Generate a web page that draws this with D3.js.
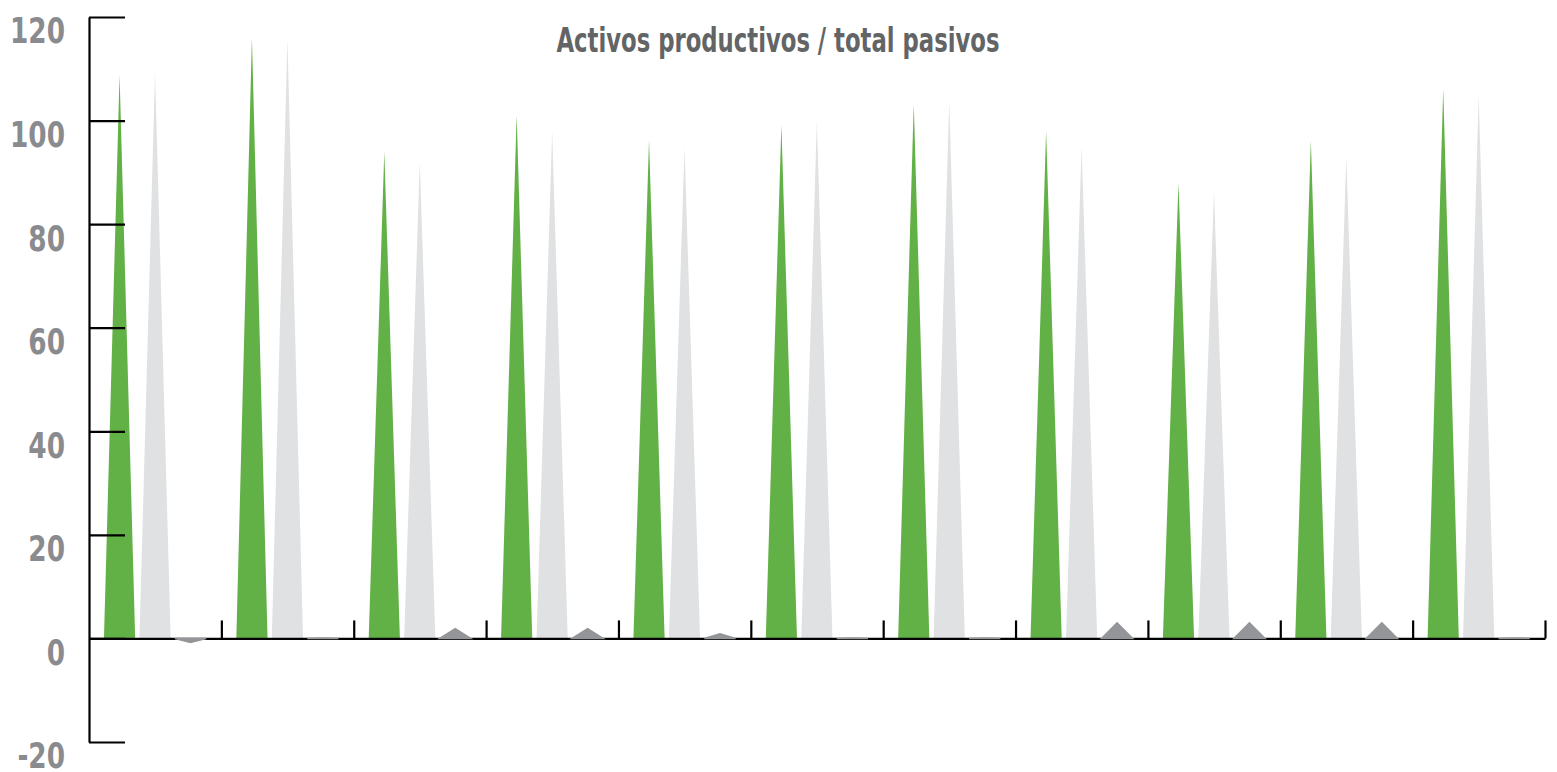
<!DOCTYPE html>
<html>
<head>
<meta charset="utf-8">
<script src="https://cdn.jsdelivr.net/npm/d3@7"></script>
<style>
  html, body { margin: 0; padding: 0; background: #ffffff; }
  svg { display: block; }
  .cond { font-family: 'DejaVu Sans Condensed', 'DejaVu Sans', sans-serif; font-stretch: condensed; font-weight: bold; }
</style>
</head>
<body>
<svg id="chart" width="1557" height="772"></svg>
<script>
const title = "Activos productivos / total pasivos";
const categories = ["1","2","3","4","5","6","7","8","9","10","11"];
const seriesNames = ["A", "B", "C"];
const seriesA = [108.8, 116.0, 94.0, 101.1, 96.3, 99.2, 103.2, 98.0, 88.0, 96.1, 106.2];
const seriesB = [109.4, 115.8, 92.1, 98.0, 94.8, 99.9, 103.8, 95.0, 86.3, 93.0, 104.9];
const seriesC = [-0.8, 0.1, 1.9, 1.9, 0.9, 0.1, 0.1, 3.0, 3.0, 3.0, 0.1];
const yTicks = [-20, 0, 20, 40, 60, 80, 100, 120];
const colors = ["#62b146", "#e0e1e3", "#939598"];

(function () {
const svg = d3.select("#chart");
const mLeft = 89, mRight = 1545, mTop = 17, mBottom = 742;

const y = d3.scaleLinear().domain([-20, 120]).range([mBottom, mTop]);
const x0 = d3.scaleBand().domain(categories).range([mLeft, mRight]).padding(0);
const bw = x0.bandwidth();
const x1 = d3.scaleBand().domain(seriesNames).range([bw * 0.113, bw * 0.885]).paddingInner(0.12).paddingOuter(0);
const xIdx = d3.scaleLinear().domain([0, categories.length]).range([mLeft, mRight]);

const data = categories.map((c, i) => ({ cat: c, vals: [seriesA[i], seriesB[i], seriesC[i]] }));

function tri(cat, s, v) {
  const xs = x0(cat) + x1(s);
  const xe = xs + x1.bandwidth();
  const xm = (xs + xe) / 2;
  return `M${xs},${y(0)}L${xm},${y(v)}L${xe},${y(0)}Z`;
}

// big triangles
const g = svg.append("g");
data.forEach(d => {
  [0, 1].forEach(j => {
    g.append("path")
      .attr("d", tri(d.cat, seriesNames[j], d.vals[j]))
      .attr("fill", colors[j]);
  });
});

// y axis
const yAxis = d3.axisLeft(y).tickValues(yTicks).tickSizeInner(-36).tickSizeOuter(0).tickPadding(24).tickFormat(d => String(d));
const ya = svg.append("g").attr("transform", `translate(${mLeft},0)`).call(yAxis);
ya.selectAll("path, line").attr("stroke", "#000").attr("stroke-width", 2.2);
const labels = ya.selectAll("text")
  .attr("class", "cond")
  .attr("dy", "0.72em")
  .attr("fill", "#8a8b8e")
  .style("font-size", "36px");
// condense tick labels so "120" is ~55px wide
let ref = null;
labels.each(function (d) { if (d === 120) ref = this.getComputedTextLength(); });
const k = ref ? Math.min(1, 55 / ref) : 1;
labels.each(function () {
  const w = this.getComputedTextLength();
  d3.select(this).attr("textLength", (w * k).toFixed(1)).attr("lengthAdjust", "spacingAndGlyphs");
});

// x axis at zero
const xAxis = d3.axisBottom(xIdx).tickValues(d3.range(1, categories.length + 1)).tickSizeInner(-18).tickSizeOuter(0).tickFormat("");
const xa = svg.append("g").attr("transform", `translate(0,${y(0)})`).call(xAxis);
xa.selectAll("path, line").attr("stroke", "#000").attr("stroke-width", 2.2);

// small dark triangles over the baseline
data.forEach(d => {
  svg.append("path")
    .attr("d", tri(d.cat, "C", d.vals[2]))
    .attr("fill", colors[2])
    .attr("stroke", colors[2])
    .attr("stroke-width", 1.5);
});

// title
const t = svg.append("text")
  .attr("class", "cond")
  .attr("x", 778).attr("y", 52)
  .attr("text-anchor", "middle")
  .attr("fill", "#636466")
  .style("font-size", "33px")
  .text(title);
const w = t.node().getComputedTextLength();
if (w > 443) t.attr("textLength", 443).attr("lengthAdjust", "spacingAndGlyphs");
})();
</script>
</body>
</html>
